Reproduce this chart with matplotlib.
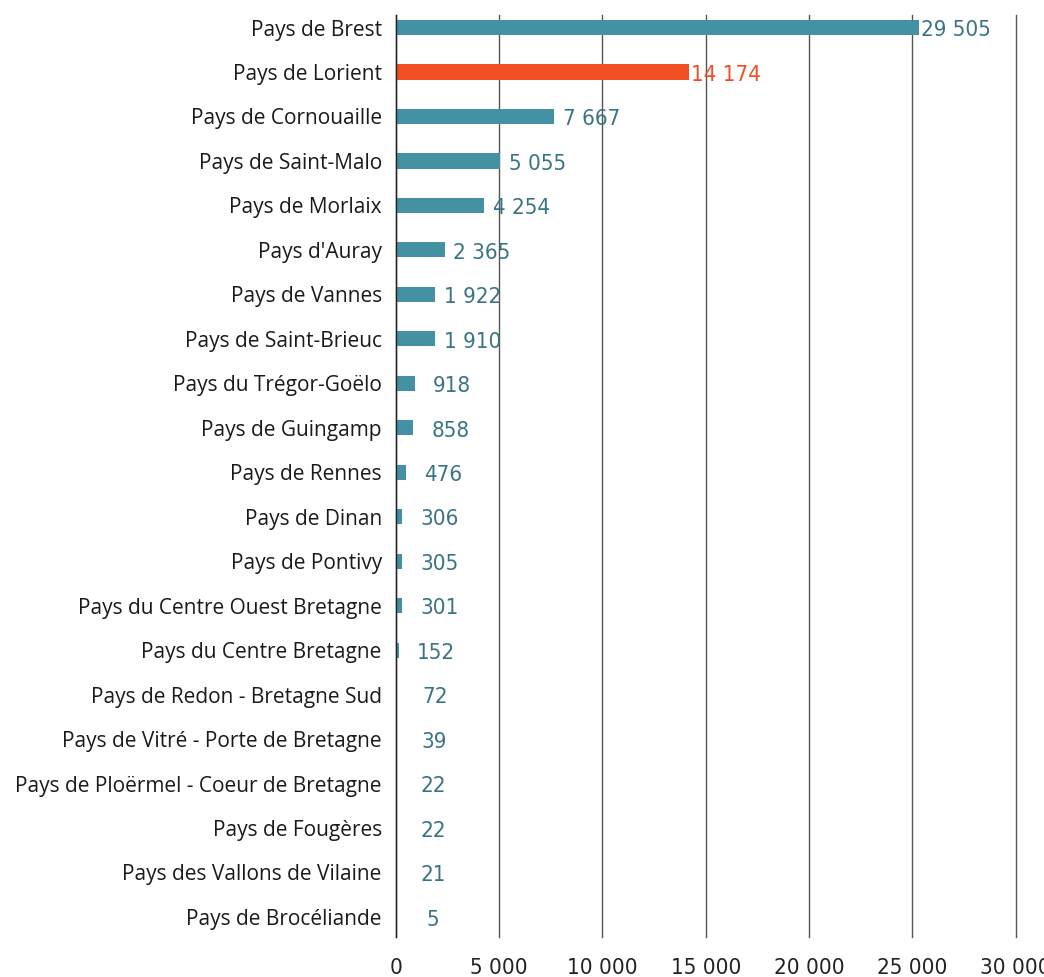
import matplotlib
matplotlib.use("Agg")
import matplotlib.pyplot as plt
from matplotlib import font_manager

# donnees
pays = ["Pays de Brest", "Pays de Lorient", "Pays de Cornouaille", "Pays de Saint-Malo",
        "Pays de Morlaix", "Pays d'Auray", "Pays de Vannes", "Pays de Saint-Brieuc",
        "Pays du Trégor-Goëlo", "Pays de Guingamp", "Pays de Rennes", "Pays de Dinan",
        "Pays de Pontivy", "Pays du Centre Ouest Bretagne", "Pays du Centre Bretagne",
        "Pays de Redon - Bretagne Sud", "Pays de Vitré - Porte de Bretagne",
        "Pays de Ploërmel - Coeur de Bretagne", "Pays de Fougères",
        "Pays des Vallons de Vilaine", "Pays de Brocéliande"]
valeurs = [29505, 14174, 7667, 5055, 4254, 2365, 1922, 1910, 918, 858, 476, 306,
           305, 301, 152, 72, 39, 22, 22, 21, 5]
# longueur de barre vue sur l'image (la barre de Brest s'arrete vers 25 300)
longueurs = [25300, 14174, 7667, 5055, 4254, 2365, 1922, 1910, 918, 858, 476, 306,
             305, 301, 152, 72, 39, 22, 22, 21, 5]
en_avant = "Pays de Lorient"
xticks = [0, 5000, 10000, 15000, 20000, 25000, 30000]

teal = "#4591a4"
teal_txt = "#3a7482"
orange = "#f04e23"

# police etroite pour les chiffres, si on en trouve une
narrow_fp = None
for f in font_manager.fontManager.ttflist:
    if ("Condensed" in f.name or "Narrow" in f.name or f.stretch in ("condensed", "semi-condensed", 625, 750)) \
            and f.style == "normal" and f.weight in (400, "normal", "regular"):
        narrow_fp = f.fname
        break

plt.rcParams["font.family"] = ["Open Sans", "DejaVu Sans"]

def fmt(v):
    return "{:,}".format(v).replace(",", " ")

def numfont(size):
    if narrow_fp:
        return font_manager.FontProperties(fname=narrow_fp, size=size)
    return font_manager.FontProperties(family="DejaVu Sans", size=size - 2)

fig = plt.figure(figsize=(10.44, 9.77), dpi=100)
ax = fig.add_axes([0.379, 0.041, 0.594, 0.944])

ypos = list(range(len(pays)))
couleurs = [orange if p == en_avant else teal for p in pays]
ax.barh(ypos, longueurs, height=0.34, color=couleurs, zorder=3)

for y, l, v, c in zip(ypos, longueurs, valeurs, couleurs):
    tc = orange if c == orange else teal_txt
    ax.annotate(fmt(v), (l, y), xytext=(27, -2), textcoords="offset points",
                ha="center", va="center", fontproperties=numfont(16), color=tc, zorder=4)

ax.set_xlim(0, 30000)
ax.set_ylim(len(pays) - 1 + 0.45, -0.29)
ax.set_yticks(ypos)
ax.set_yticklabels(pays, fontsize=15, color="#1a1a1a")
ax.set_xticks(xticks)
ax.set_xticklabels([fmt(t) for t in xticks])
for t in ax.get_xticklabels():
    t.set_fontproperties(numfont(16))
    t.set_color("#222222")
ax.tick_params(axis="both", length=0)
ax.tick_params(axis="x", pad=15)
ax.tick_params(axis="y", pad=10)

ax.grid(axis="x", color="#555555", linewidth=1, zorder=1)
for g in ax.get_xgridlines():
    g.set_clip_on(False)
for s in ["top", "right", "bottom"]:
    ax.spines[s].set_visible(False)
ax.spines["left"].set_color("#222222")
ax.spines["left"].set_linewidth(1)
ax.spines["left"].set_zorder(5)

fig.savefig("out.png", dpi=100)
